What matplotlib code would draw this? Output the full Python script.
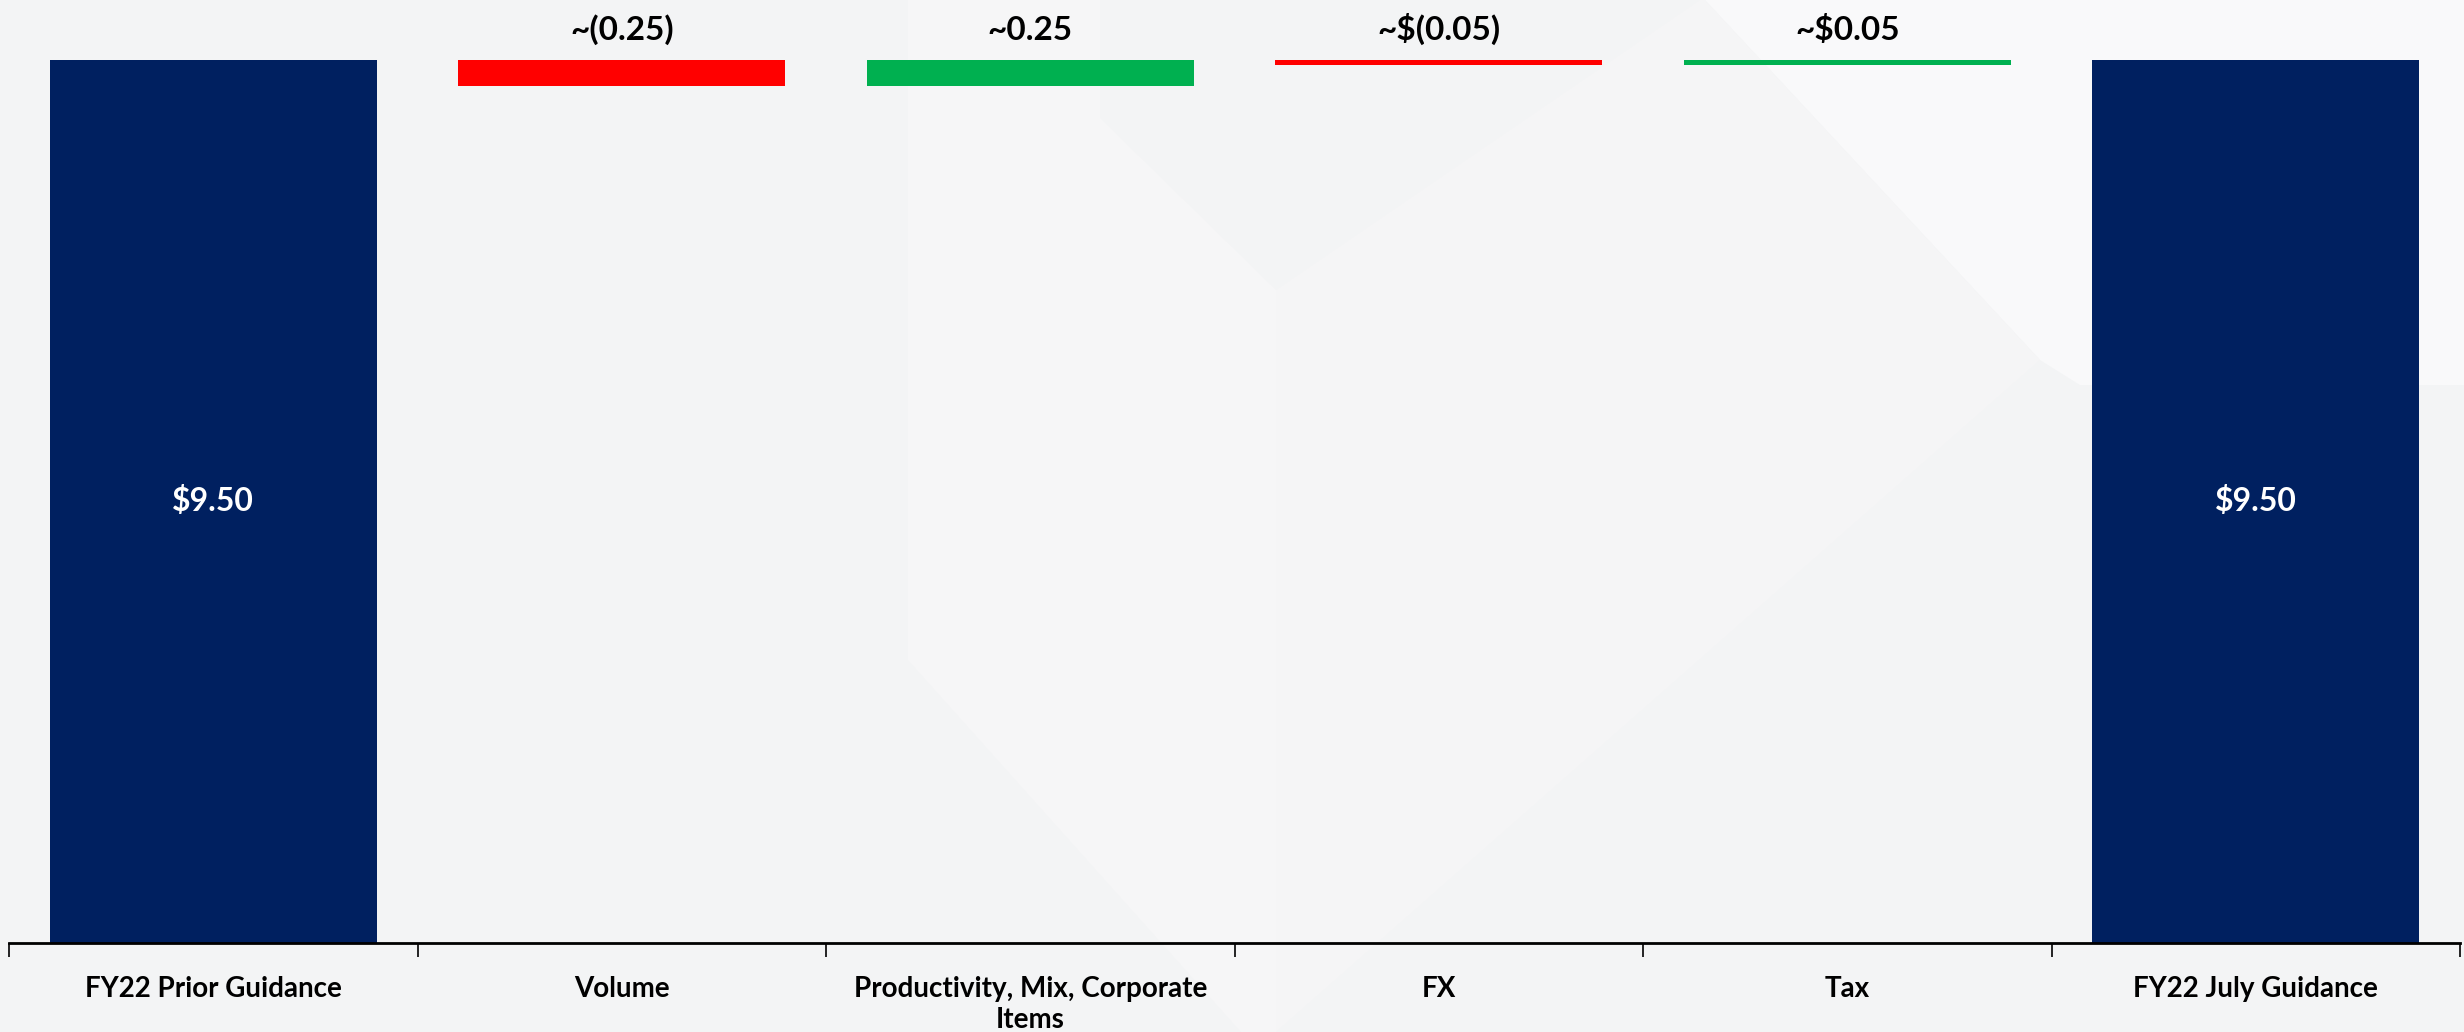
import matplotlib.pyplot as plt
from matplotlib.patches import Polygon

# EPS bridge, FY22 guidance
categories = ["FY22 Prior Guidance", "Volume", "Productivity, Mix, Corporate\nItems",
              "FX", "Tax", "FY22 July Guidance"]
totals = {0: 9.50, 5: 9.50}
changes = [-0.25, 0.25, -0.05, 0.05]
value_labels = ["$9.50", "~(0.25)", "~0.25", "~$(0.05)", "~$0.05", "$9.50"]

navy = "#002060"
red = "#FF0000"
green = "#00B050"
y_floor = 1.0

plt.rcParams['font.family'] = ['Lato', 'DejaVu Sans']

fig = plt.figure(figsize=(24.64, 10.32), dpi=100)
fig.patch.set_facecolor("#f3f4f5")

# faint watermark shapes in the background
bg = fig.add_axes([0, 0, 1, 1], zorder=0)
bg.set_xlim(0, 2464)
bg.set_ylim(1032, 0)
bg.axis("off")
bg.add_patch(Polygon([(1705, 0), (2464, 0), (2464, 385), (2080, 385), (2040, 360)],
                     closed=True, color="#f9f9fa", lw=0))
bg.add_patch(Polygon([(908, 0), (1100, 0), (1100, 118), (1276, 290), (1276, 1032),
                      (1241, 1032), (908, 660)],
                     closed=True, color="#f6f6f7", lw=0))
bg.add_patch(Polygon([(1276, 290), (1700, 0), (1705, 0), (2040, 360), (1276, 1032)],
                     closed=True, color="#f5f5f6", lw=0))

ax = fig.add_axes([9 / 2464, 89 / 1032, 2451 / 2464, 883 / 1032], zorder=1)
ax.patch.set_alpha(0)

# bars: totals from zero, steps floating from running level
level = totals[0]
for i, name in enumerate(categories):
    if i in totals:
        v = totals[i]
        ax.bar(i, v, width=0.8, color=navy)
        ax.text(i, (y_floor + v) / 2, value_labels[i], ha="center", va="center",
                color="white", fontsize=23, fontweight="bold")
        level = v
    else:
        d = changes[i - 1]
        bottom = level + min(d, 0)
        ax.bar(i, abs(d), bottom=bottom, width=0.8, color=red if d < 0 else green)
        ax.text(i, level + max(d, 0) + 0.14, value_labels[i], ha="center", va="bottom",
                color="black", fontsize=24, fontweight="bold")
        level += d

ax.set_xlim(-0.5, len(categories) - 0.5)
ax.set_ylim(y_floor, 9.5)

for s in ["top", "right", "left"]:
    ax.spines[s].set_visible(False)
ax.spines["bottom"].set_linewidth(2)
ax.set_yticks([])

ax.set_xticks(range(len(categories)))
ax.set_xticklabels(categories, fontsize=20, fontweight="bold", linespacing=1.2)
ax.tick_params(axis="x", which="major", length=0, pad=24)
ax.set_xticks([i - 0.5 for i in range(len(categories) + 1)], minor=True)
ax.tick_params(axis="x", which="minor", length=10, width=1.2, direction="out")

fig.savefig("out.png", dpi=100, facecolor=fig.get_facecolor())
